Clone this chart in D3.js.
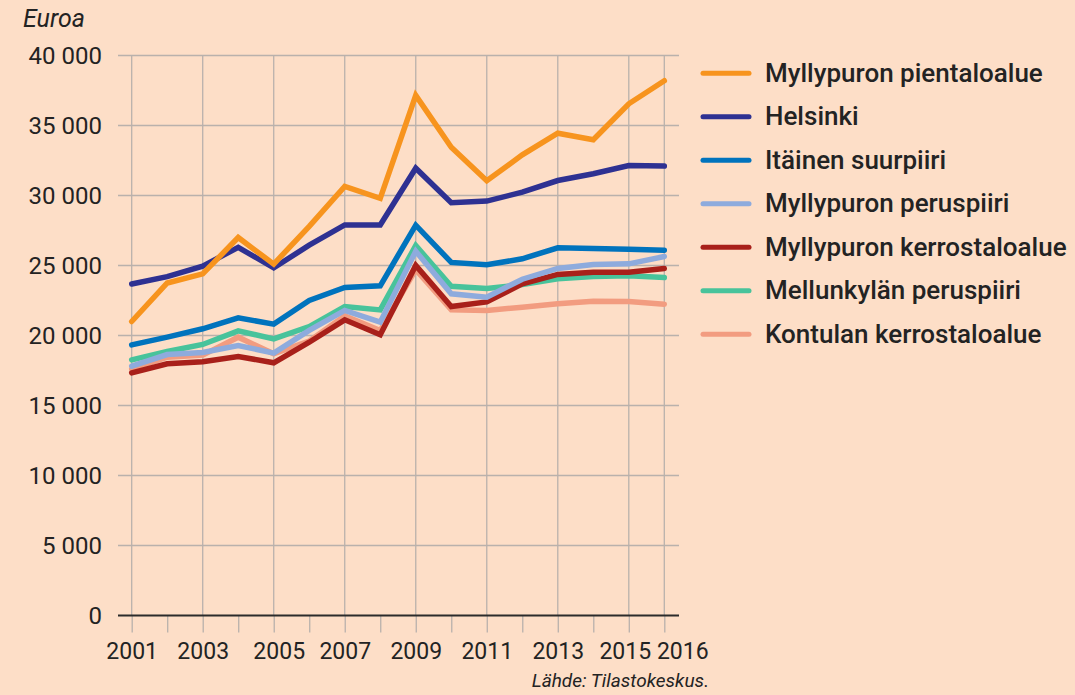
<!DOCTYPE html>
<html>
<head>
<meta charset="utf-8">
<script src="https://cdn.jsdelivr.net/npm/d3@7/dist/d3.min.js"></script>
<style>
  html, body { margin: 0; padding: 0; background: #FDDEC7; }
  svg { display: block; }
  text { font-family: Roboto, "Liberation Sans", sans-serif; fill: #232323; }
</style>
</head>
<body>
<svg id="chart" width="1075" height="695"></svg>
<script>
// ---- Data ----
const years = [2001, 2002, 2003, 2004, 2005, 2006, 2007, 2008, 2009, 2010, 2011, 2012, 2013, 2014, 2015, 2016];
const labeledYears = [2001, 2003, 2005, 2007, 2009, 2011, 2013, 2015, 2016];
const yTicks = [0, 5000, 10000, 15000, 20000, 25000, 30000, 35000, 40000];

const seriesNames = [
  "Myllypuron pientaloalue",
  "Helsinki",
  "Itäinen suurpiiri",
  "Myllypuron peruspiiri",
  "Myllypuron kerrostaloalue",
  "Mellunkylän peruspiiri",
  "Kontulan kerrostaloalue"
];
const myllypuronPientaloalue = [21000, 23750, 24400, 27000, 25100, 27800, 30650, 29800, 37150, 33450, 31050, 32900, 34450, 33980, 36550, 38200];
const helsinki = [23680, 24200, 24950, 26300, 24830, 26450, 27900, 27900, 31950, 29480, 29600, 30240, 31070, 31550, 32140, 32100];
const itainenSuurpiiri = [19330, 19880, 20480, 21260, 20810, 22500, 23430, 23550, 27880, 25220, 25050, 25480, 26260, 26210, 26160, 26090];
const myllypuronPeruspiiri = [17810, 18640, 18790, 19290, 18740, 20360, 21790, 20950, 26020, 22980, 22740, 24020, 24790, 25070, 25120, 25640];
const myllypuronKerrostaloalue = [17330, 17980, 18120, 18500, 18050, 19520, 21120, 20050, 25000, 22070, 22400, 23690, 24360, 24520, 24520, 24790];
const mellunkylanPeruspiiri = [18260, 18860, 19360, 20330, 19760, 20640, 22070, 21830, 26430, 23510, 23360, 23640, 24050, 24210, 24260, 24140];
const kontulanKerrostaloalue = [17600, 18450, 18600, 19880, 18700, 19600, 21400, 20350, 24700, 21830, 21790, 22020, 22260, 22450, 22430, 22240];
const seriesValues = [myllypuronPientaloalue, helsinki, itainenSuurpiiri, myllypuronPeruspiiri, myllypuronKerrostaloalue, mellunkylanPeruspiiri, kontulanKerrostaloalue];
const seriesColors = ["#F7941E", "#2E3192", "#0073BD", "#8EABDD", "#A8201A", "#48C39B", "#F29C80"];

// ---- Layout ----
const svg = d3.select("#chart");
svg.append("rect").attr("width", 1075).attr("height", 695).attr("fill", "#FDDEC7");

const x = d3.scaleLinear().domain([2001, 2016]).range([131.7, 664.3]);
const y = d3.scaleLinear().domain([0, 40000]).range([615.5, 55.5]);
const gridLeft = 118, gridRight = 679;
const gridColor = "#B9B1AC";

// horizontal gridlines
svg.append("g").selectAll("line").data(yTicks.filter(d => d > 0)).join("line")
  .attr("x1", gridLeft).attr("x2", gridRight)
  .attr("y1", d => y(d)).attr("y2", d => y(d))
  .attr("stroke", gridColor).attr("stroke-width", 1.3);

// vertical gridlines
svg.append("g").selectAll("line").data(labeledYears).join("line")
  .attr("x1", d => x(d)).attr("x2", d => x(d))
  .attr("y1", y(40000)).attr("y2", y(0))
  .attr("stroke", gridColor).attr("stroke-width", 1.3);

// y axis labels
const fmt = d3.formatLocale({ thousands: " ", grouping: [3], decimal: ",", currency: ["", "€"] }).format(",d");
const yAxis = svg.append("g").attr("transform", `translate(${gridLeft},0)`)
  .call(d3.axisLeft(y).tickValues(yTicks).tickSize(0).tickPadding(16).tickFormat(fmt));
yAxis.select(".domain").remove();
yAxis.selectAll("text").attr("font-size", 24).attr("fill", "#232323")
  .style("font-family", "Roboto, sans-serif");

// x axis
const labelOffset = { 2005: 5, 2015: -4, 2016: 18 };
const xAxis = svg.append("g").attr("transform", `translate(0,${y(0)})`)
  .call(d3.axisBottom(x).tickValues(years).tickSize(17).tickPadding(10)
    .tickFormat(d => labeledYears.includes(d) ? String(d) : ""));
xAxis.select(".domain").remove();
xAxis.selectAll(".tick line").attr("stroke", gridColor).attr("stroke-width", 1.3);
xAxis.selectAll(".tick text").attr("font-size", 23).attr("fill", "#232323")
  .style("font-family", "Roboto, sans-serif")
  .attr("x", d => labelOffset[d] || 0);

// zero line
svg.append("line").attr("x1", gridLeft).attr("x2", gridRight)
  .attr("y1", y(0)).attr("y2", y(0))
  .attr("stroke", "#2B2B2B").attr("stroke-width", 2);

// lines (draw last legend item first so first legend item is on top)
const line = d3.line().x((d, i) => x(years[i])).y(d => y(d));
const order = d3.range(seriesNames.length).reverse();
svg.append("g").selectAll("path").data(order).join("path")
  .attr("d", i => line(seriesValues[i]))
  .attr("fill", "none")
  .attr("stroke", i => seriesColors[i])
  .attr("stroke-width", 5.5)
  .attr("stroke-linejoin", "miter")
  .attr("stroke-linecap", "round");

// legend
const legend = svg.append("g").selectAll("g").data(seriesNames).join("g")
  .attr("transform", (d, i) => `translate(0,${73.3 + i * 43.5})`);
legend.append("line").attr("x1", 703).attr("x2", 749).attr("y1", 0).attr("y2", 0)
  .attr("stroke", (d, i) => seriesColors[i]).attr("stroke-width", 5).attr("stroke-linecap", "round");
legend.append("text").attr("x", 765).attr("y", 8.5)
  .attr("font-size", 26).attr("font-weight", 500).text(d => d);

// axis title and source
svg.append("text").attr("x", 23).attr("y", 27).attr("font-size", 25)
  .attr("font-style", "italic").text("Euroa");
svg.append("text").attr("x", 709).attr("y", 687).attr("text-anchor", "end")
  .attr("font-size", 19).attr("font-style", "italic").text("Lähde: Tilastokeskus.");
</script>
</body>
</html>
